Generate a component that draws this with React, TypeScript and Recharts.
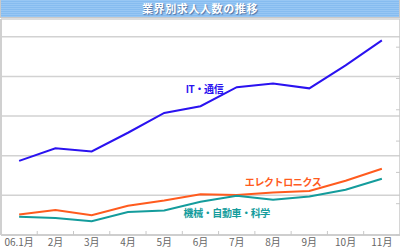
import { LineChart, Line, XAxis, YAxis, CartesianGrid } from 'recharts';

const months = ['06.1月', '2月', '3月', '4月', '5月', '6月', '7月', '8月', '9月', '10月', '11月'];
const itValues = [187, 219, 211, 258, 308, 325, 373, 382, 370, 428, 491];
const electronicsValues = [52, 63, 50, 74, 87, 103, 101, 107, 111, 137, 167];
const machineryValues = [46, 43, 35, 58, 62, 84, 99, 89, 97, 114, 142];
const leftTicks = [0, 100, 200, 300, 400, 500];
const rightTicks = [0, 100, 200, 300, 400, 500, 600];

const data = months.map((month, i) => ({
  month,
  it: itValues[i],
  electronics: electronicsValues[i],
  machinery: machineryValues[i],
}));

const FONT = '"Noto Sans CJK JP", "Noto Sans", sans-serif';
const PLOT_WIDTH = 398;
const HALF_BAND = PLOT_WIDTH / months.length / 2;

function MonthTick(props: any) {
  const { x, y, payload, index } = props;
  return (
    <g>
      {index < months.length - 1 && (
        <line x1={x + HALF_BAND} x2={x + HALF_BAND} y1={y - 4} y2={y} stroke="#c8c8c8" strokeWidth={1} />
      )}
      <text x={x} y={y} dy={11} textAnchor="middle" fontSize={10} fill="#666" fontFamily={FONT}>
        {payload.value}
      </text>
    </g>
  );
}

function seriesLabel(text: string, at: number, color: string, dx: number, dy: number) {
  return (props: any) => {
    if (props.index !== at) return null;
    return (
      <text
        x={props.x + dx}
        y={props.y + dy}
        textAnchor="middle"
        dominantBaseline="central"
        fontSize={10}
        letterSpacing={-0.4}
        fontWeight={700}
        fill={color}
        fontFamily={FONT}
      >
        {text}
      </text>
    );
  };
}

export default function App() {
  return (
    <div style={{ position: 'absolute', left: 0, top: 0, width: 400, height: 248, background: '#fff' }}>
      <style>{'body{margin:0}'}</style>
      <div
        style={{
          position: 'absolute',
          left: 0,
          top: 0,
          width: 398,
          height: 17,
          border: '1px solid #c9c9c9',
          borderTop: 'none',
          background: 'repeating-linear-gradient(to bottom, #98c7f4 0px, #98c7f4 1px, #86bcf0 1px, #86bcf0 2px)',
          color: '#fff',
          fontFamily: FONT,
          fontWeight: 700,
          fontSize: 11,
          letterSpacing: 0.6,
          lineHeight: '17px',
          textAlign: 'center',
          textShadow: '1px 1px 1px rgba(60,90,140,0.8)',
        }}
      >
        業界別求人人数の推移
      </div>
      <LineChart
        width={400}
        height={248}
        data={data}
        margin={{ top: 19, right: 0, bottom: 0, left: 0 }}
        style={{ position: 'absolute', left: 0, top: 0 }}
      >
        <CartesianGrid yAxisId="l" vertical={false} stroke="#d2d2d2" strokeWidth={1.5} />
        <XAxis
          dataKey="month"
          scale="band"
          height={13}
          tickSize={0}
          tickMargin={0}
          tickLine={false}
          interval={0}
          axisLine={{ stroke: '#c8c8c8', strokeWidth: 1.5 }}
          tick={<MonthTick />}
        />
        <YAxis
          yAxisId="l"
          width={1}
          domain={[0, 545]}
          ticks={leftTicks}
          tickFormatter={() => ''}
          tickLine={false}
          axisLine={{ stroke: '#d0d0d0', strokeWidth: 2 }}
        />
        <YAxis
          yAxisId="r"
          orientation="right"
          mirror
          width={1}
          domain={[0, 690]}
          allowDataOverflow
          ticks={rightTicks}
          tickSize={4}
          tickFormatter={() => ''}
          tickLine={{ stroke: '#c8c8c8' }}
          axisLine={{ stroke: '#c8c8c8', strokeWidth: 1.5 }}
        />
        <Line
          yAxisId="l"
          dataKey="it"
          stroke="#2a12f0"
          strokeWidth={2}
          dot={false}
          isAnimationActive={false}
          label={seriesLabel('IT・通信', 5, '#2a12f0', 4, -18)}
        />
        <Line
          yAxisId="l"
          dataKey="electronics"
          stroke="#ff5b1e"
          strokeWidth={2}
          dot={false}
          isAnimationActive={false}
          label={seriesLabel('エレクトロニクス', 7, '#ff5b1e', 10, -11)}
        />
        <Line
          yAxisId="l"
          dataKey="machinery"
          stroke="#149c9c"
          strokeWidth={2}
          dot={false}
          isAnimationActive={false}
          label={seriesLabel('機械・自動車・科学', 6, '#149c9c', -10, 17)}
        />
      </LineChart>
    </div>
  );
}
